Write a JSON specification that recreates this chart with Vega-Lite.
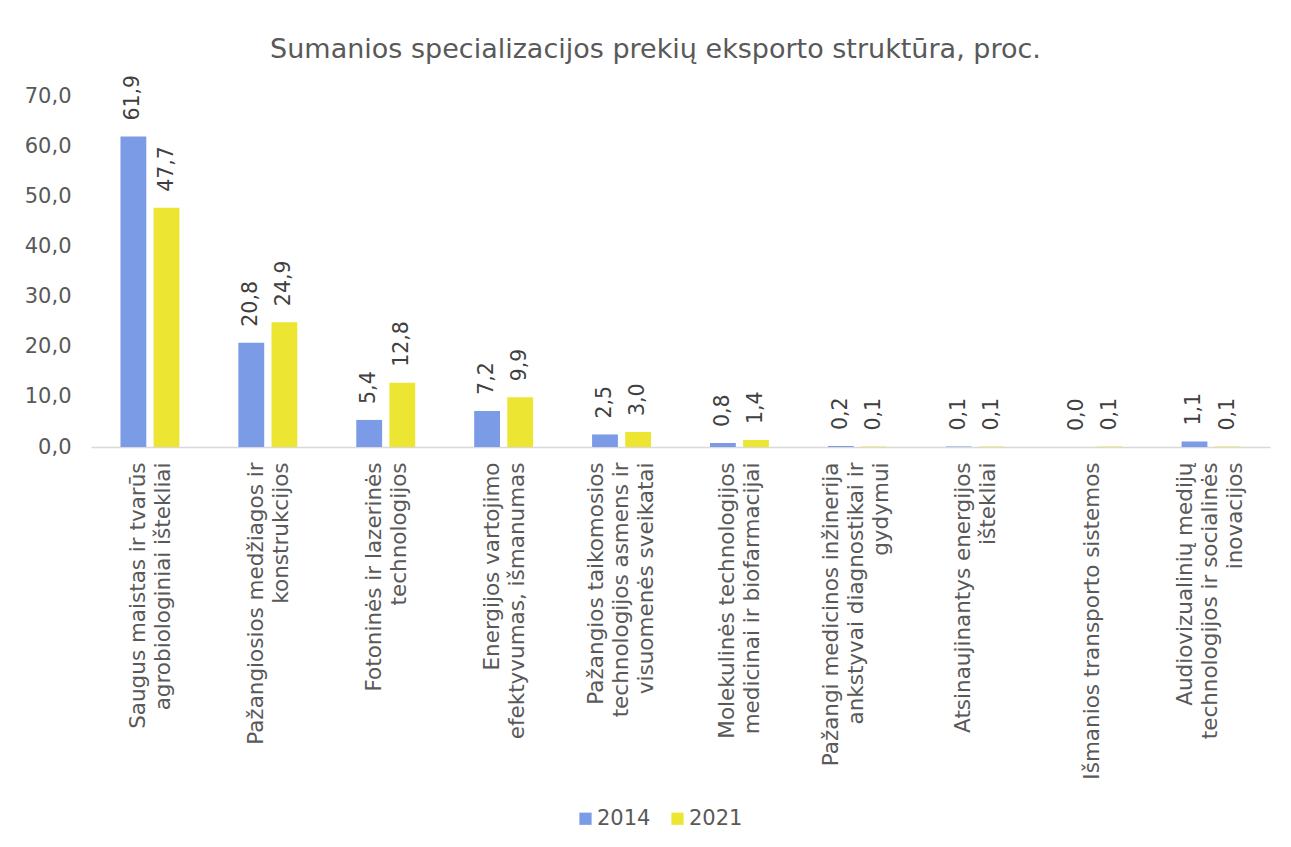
{
  "$schema": "https://vega.github.io/schema/vega-lite/v6.json",
  "autosize": {"type": "none"},
  "width": 1179,
  "height": 351,
  "padding": {"left": 91, "top": 96, "right": 21, "bottom": 400},
  "background": "white",
  "config": {
    "view": {"stroke": null},
    "font": "DejaVu Sans",
    "axis": {"labelColor": "#595959", "labelFont": "DejaVu Sans"},
    "locale": {"number": {"decimal": ",", "thousands": " ", "grouping": [3], "currency": ["", " €"]}}
  },
  "title": {
    "text": "Sumanios specializacijos prekių eksporto struktūra, proc.",
    "font": "DejaVu Sans",
    "fontSize": 27,
    "fontWeight": "normal",
    "color": "#595959",
    "anchor": "middle",
    "frame": "group",
    "dx": -25,
    "offset": 11
  },
  "data": {
    "values": [
      {"cat": "Saugus maistas ir tvarūs|agrobiologiniai ištekliai", "year": "2014", "value": 61.9},
      {"cat": "Saugus maistas ir tvarūs|agrobiologiniai ištekliai", "year": "2021", "value": 47.7},
      {"cat": "Pažangiosios medžiagos ir|konstrukcijos", "year": "2014", "value": 20.8},
      {"cat": "Pažangiosios medžiagos ir|konstrukcijos", "year": "2021", "value": 24.9},
      {"cat": "Fotoninės ir lazerinės|technologijos", "year": "2014", "value": 5.4},
      {"cat": "Fotoninės ir lazerinės|technologijos", "year": "2021", "value": 12.8},
      {"cat": "Energijos vartojimo|efektyvumas, išmanumas", "year": "2014", "value": 7.2},
      {"cat": "Energijos vartojimo|efektyvumas, išmanumas", "year": "2021", "value": 9.9},
      {"cat": "Pažangios taikomosios|technologijos asmens ir|visuomenės sveikatai", "year": "2014", "value": 2.5},
      {"cat": "Pažangios taikomosios|technologijos asmens ir|visuomenės sveikatai", "year": "2021", "value": 3.0},
      {"cat": "Molekulinės technologijos|medicinai ir biofarmacijai", "year": "2014", "value": 0.8},
      {"cat": "Molekulinės technologijos|medicinai ir biofarmacijai", "year": "2021", "value": 1.4},
      {"cat": "Pažangi medicinos inžinerija|ankstyvai diagnostikai ir|gydymui", "year": "2014", "value": 0.2},
      {"cat": "Pažangi medicinos inžinerija|ankstyvai diagnostikai ir|gydymui", "year": "2021", "value": 0.1},
      {"cat": "Atsinaujinantys energijos|ištekliai", "year": "2014", "value": 0.1},
      {"cat": "Atsinaujinantys energijos|ištekliai", "year": "2021", "value": 0.1},
      {"cat": "Išmanios transporto sistemos", "year": "2014", "value": 0.0},
      {"cat": "Išmanios transporto sistemos", "year": "2021", "value": 0.1},
      {"cat": "Audiovizualinių medijų|technologijos ir socialinės|inovacijos", "year": "2014", "value": 1.1},
      {"cat": "Audiovizualinių medijų|technologijos ir socialinės|inovacijos", "year": "2021", "value": 0.1}
    ]
  },
  "encoding": {
    "x": {
      "field": "cat",
      "type": "nominal",
      "sort": null,
      "scale": {"paddingInner": 0.5, "paddingOuter": 0.25},
      "axis": {
        "title": null,
        "labelAngle": -90,
        "labelAlign": "right",
        "labelBaseline": "middle",
        "labelExpr": "split(datum.label, '|')",
        "labelFontSize": 21.5,
        "labelLineHeight": 25,
        "labelPadding": 15,
        "labelLimit": 0,
        "labelOffset": {
          "condition": [
            {"test": "length(split(datum.value, '|')) == 3", "value": -25},
            {"test": "length(split(datum.value, '|')) == 2", "value": -11}
          ],
          "value": 0
        },
        "ticks": false,
        "domainColor": "#d9d9d9",
        "domainWidth": 1.5
      }
    },
    "xOffset": {"field": "year", "type": "nominal", "scale": {"paddingInner": 0.22}},
    "y": {
      "field": "value",
      "type": "quantitative",
      "scale": {"domain": [0, 70], "nice": false},
      "axis": {
        "title": null,
        "values": [0, 10, 20, 30, 40, 50, 60, 70],
        "format": ".1f",
        "labelFontSize": 21,
        "labelPadding": 20,
        "ticks": false,
        "domain": false,
        "grid": false
      }
    }
  },
  "layer": [
    {
      "mark": {"type": "bar"},
      "encoding": {
        "color": {
          "field": "year",
          "type": "nominal",
          "scale": {"domain": ["2014", "2021"], "range": ["#7b9be6", "#ece633"]},
          "legend": {
            "title": null,
            "orient": "none",
            "direction": "horizontal",
            "legendX": 484,
            "legendY": 712,
            "symbolType": "square",
            "symbolSize": 150,
            "symbolStrokeWidth": 0,
            "labelFontSize": 21,
            "labelColor": "#595959",
            "labelFont": "DejaVu Sans",
            "columnPadding": 16,
            "padding": 0,
            "labelOffset": 1
          }
        }
      }
    },
    {
      "mark": {"type": "text", "angle": -90, "align": "left", "baseline": "middle", "dx": 16, "fontSize": 20.5, "color": "#404040", "font": "DejaVu Sans"},
      "encoding": {
        "text": {"field": "value", "type": "quantitative", "format": ".1f"}
      }
    }
  ]
}
